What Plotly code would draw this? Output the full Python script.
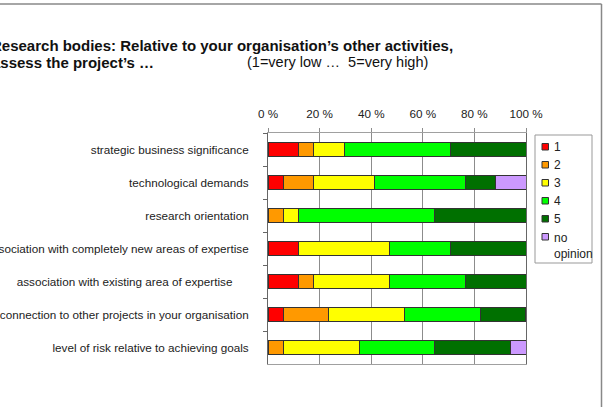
import plotly.graph_objects as go

categories = [
    "strategic business significance",
    "technological demands",
    "research orientation",
    "association with completely new areas of expertise",
    "association with existing area of expertise\u00a0\u00a0\u00a0\u00a0\u00a0",
    "connection to other projects in your organisation",
    "level of risk relative to achieving goals",
]
series_names = ["1", "2", "3", "4", "5", "no opinion"]
v1 = [11.8, 5.9, 0, 11.8, 11.8, 5.9, 0]
v2 = [5.9, 11.8, 5.9, 0, 5.9, 17.6, 5.9]
v3 = [11.8, 23.5, 5.9, 35.3, 29.4, 29.4, 29.4]
v4 = [41.2, 35.3, 52.9, 23.5, 29.4, 29.4, 29.4]
v5 = [29.4, 11.8, 35.3, 29.4, 23.5, 17.6, 29.4]
v_no = [0, 11.8, 0, 0, 0, 0, 5.9]
series_values = [v1, v2, v3, v4, v5, v_no]
colors = ["#FF0000", "#FF9900", "#FFFF00", "#00FF00", "#007000", "#CC99FF"]
x_ticks = [0, 20, 40, 60, 80, 100]
x_tick_labels = ["0 %", "20 %", "40 %", "60 %", "80 %", "100 %"]

W, H = 606, 407
L, R, T, B = 268, 80, 133, 43
PW, PH = W - L - R, H - T - B


def px(x):
    return (x - L) / PW


def py(y):
    return (H - B - y) / PH


FONT = "Liberation Sans, Arial, sans-serif"

fig = go.Figure()
for name, vals, col in zip(series_names, series_values, colors):
    fig.add_trace(go.Bar(
        y=categories, x=[v if v > 0 else None for v in vals], name=name,
        orientation="h", marker=dict(color=col, line=dict(color="#333333", width=1)),
        width=0.43, showlegend=False,
    ))

fig.update_layout(
    width=W, height=H, barmode="stack",
    margin=dict(l=L, r=R, t=T, b=B, autoexpand=False),
    paper_bgcolor="white", plot_bgcolor="white",
    font=dict(family=FONT, size=11.7, color="#222222"),
    xaxis=dict(
        side="top", range=[0, 100], tickvals=x_ticks, ticktext=x_tick_labels,
        showgrid=True, gridcolor="#8c8c8c", gridwidth=1,
        showline=True, linecolor="#a0a0a0", mirror=True,
        ticks="outside", ticklen=4, tickcolor="#8c8c8c", zeroline=False,
        ticklabelstandoff=5, fixedrange=True,
    ),
    yaxis=dict(
        autorange="reversed", showgrid=False, showline=True, linecolor="#666666",
        mirror=True, ticks="outside", ticklen=4, tickcolor="#666666",
        tickson="boundaries", ticklabelstandoff=16,
    ),
)

annotations = [
    dict(text="<b>Research bodies: Relative to your organisation\u2019s other activities,</b>",
         x=px(-11), y=py(45), xanchor="left", yanchor="middle", font=dict(size=15, color="#111111")),
    dict(text="<b>assess the project\u2019s \u2026</b>",
         x=px(-10), y=py(62), xanchor="left", yanchor="middle", font=dict(size=15, color="#111111")),
    dict(text="(1=very low \u2026  5=very high)",
         x=px(245), y=py(62), xanchor="left", yanchor="middle", font=dict(size=14.5, color="#111111")),
]

shapes = [
    dict(type="line", x0=px(-5), x1=px(601.5), y0=py(4), y1=py(4), line=dict(color="#888888", width=1.5)),
    dict(type="line", x0=px(601.5), x1=px(601.5), y0=py(4), y1=py(420), line=dict(color="#888888", width=1.5)),
    dict(type="rect", x0=px(535), x1=px(592), y0=py(135), y1=py(263), line=dict(color="#999999", width=1)),
]

item_y = [147, 165, 183, 201, 219, 237]
for name, col, yy in zip(series_names, colors, item_y):
    shapes.append(dict(type="rect", x0=px(542), x1=px(548.5), y0=py(yy - 3.5), y1=py(yy + 3),
                       fillcolor=col, line=dict(color="#333333", width=1)))
    if name == "no opinion":
        annotations.append(dict(text="no<br>opinion", x=px(552), y=py(yy - 8), xanchor="left",
                                yanchor="top", align="left", font=dict(size=12)))
    else:
        annotations.append(dict(text=name, x=px(552), y=py(yy), xanchor="left",
                                yanchor="middle", font=dict(size=12)))

for a in annotations:
    a.update(xref="paper", yref="paper", showarrow=False)
fig.update_layout(annotations=annotations)
for s in shapes:
    s.update(xref="paper", yref="paper")
fig.update_layout(shapes=shapes)

fig.write_html("out.html")
